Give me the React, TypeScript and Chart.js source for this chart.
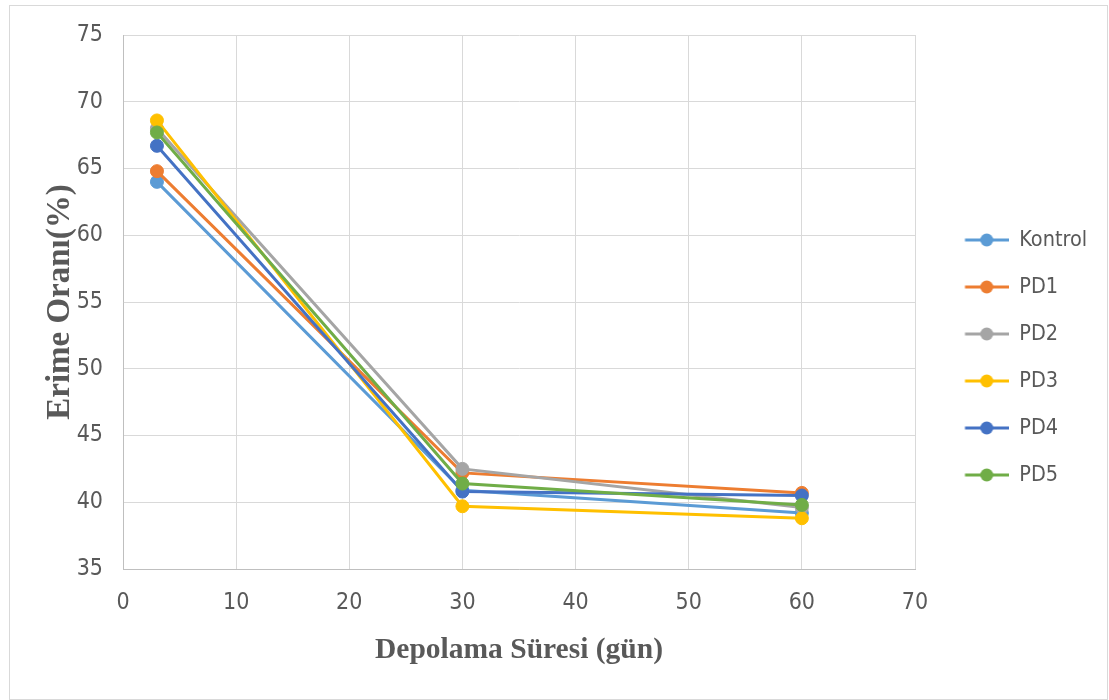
import React, { useEffect, useRef } from "react";
import { Chart, registerables } from "chart.js";

Chart.register(...registerables);

const days = [3, 30, 60];
const seriesNames = ["Kontrol", "PD1", "PD2", "PD3", "PD4", "PD5"];
const kontrol = [64.0, 40.9, 39.2];
const pd1 = [64.8, 42.2, 40.7];
const pd2 = [68.0, 42.5, 39.6];
const pd3 = [68.6, 39.7, 38.8];
const pd4 = [66.7, 40.8, 40.5];
const pd5 = [67.7, 41.4, 39.8];
const seriesValues = [kontrol, pd1, pd2, pd3, pd4, pd5];
const seriesColors = ["#5B9BD5", "#ED7D31", "#A5A5A5", "#FFC000", "#4472C4", "#70AD47"];
const xMin = 0, xMax = 70, xStep = 10;
const yMin = 35, yMax = 75, yStep = 5;
const xTitle = "Depolama Süresi (gün)";
const yTitle = "Erime Oranı(%)";

const W = 1109, H = 700;
const TICK_FONT = "'Liberation Sans Narrow', 'DejaVu Sans Condensed', 'Noto Sans', sans-serif";
const TITLE_FONT = "'Liberation Serif', 'DejaVu Serif', serif";
const LEG_SIZE = 21.5;
const LEG_PAD = 25.5;
const MARK_W = 68;
const MARK_OFF = 24.5;

function makeMarker(color: string) {
  const c = document.createElement("canvas");
  c.width = MARK_W;
  c.height = 16;
  const ctx = c.getContext("2d")!;
  ctx.strokeStyle = color;
  ctx.lineWidth = 3;
  ctx.beginPath();
  ctx.moveTo(MARK_OFF, 8);
  ctx.lineTo(MARK_W, 8);
  ctx.stroke();
  ctx.fillStyle = color;
  ctx.beginPath();
  ctx.arc(MARK_OFF + (MARK_W - MARK_OFF) / 2, 8, 6.5, 0, Math.PI * 2);
  ctx.fill();
  return c;
}

export default function App() {
  const ref = useRef<HTMLCanvasElement | null>(null);
  useEffect(() => {
    document.body.style.margin = "0";
    const canvas = ref.current!;
    const markers = seriesColors.map(makeMarker);
    const mctx = document.createElement("canvas").getContext("2d")!;
    mctx.font = `${LEG_SIZE}px ${TICK_FONT}`;
    const textW = Math.max(...seriesNames.map((n) => mctx.measureText(n).width));
    const legendW = LEG_PAD + MARK_W + LEG_SIZE / 2 + textW + 10;
    const chartRight = 915;
    const padRight = Math.max(0, W - chartRight - legendW);

    const chart = new Chart(canvas, {
      type: "line",
      data: {
        datasets: seriesNames.map((name, i) => ({
          label: name,
          data: days.map((d, j) => ({ x: d, y: seriesValues[i][j] })),
          borderColor: seriesColors[i],
          backgroundColor: seriesColors[i],
          pointBackgroundColor: seriesColors[i],
          pointBorderColor: seriesColors[i],
          pointRadius: 6.5,
          pointBorderWidth: 1,
          borderWidth: 3,
          tension: 0,
          fill: false,
          order: seriesNames.length - 1 - i,
        })),
      },
      options: {
        responsive: false,
        animation: false,
        layout: { padding: { left: 20, top: 35, bottom: 20, right: padRight } },
        plugins: {
          tooltip: { enabled: false },
          legend: {
            position: "right",
            labels: {
              usePointStyle: true,
              pointStyleWidth: MARK_W,
              padding: LEG_PAD,
              color: "#595959",
              font: { family: TICK_FONT, size: LEG_SIZE },
              sort: (a: any, b: any) => a.datasetIndex - b.datasetIndex,
              generateLabels: (ch: any) => {
                const items = (Chart.defaults.plugins.legend.labels as any).generateLabels(ch);
                return items.map((it: any) => ({ ...it, pointStyle: markers[it.datasetIndex] }));
              },
            },
          },
        },
        scales: {
          x: {
            type: "linear",
            min: xMin,
            max: xMax,
            ticks: {
              stepSize: xStep,
              padding: 20,
              color: "#595959",
              font: { family: TICK_FONT, size: 23 },
            },
            grid: { color: "#d9d9d9", lineWidth: 1, drawTicks: false },
            border: { color: "#bfbfbf", width: 1 },
            title: {
              display: true,
              text: xTitle,
              color: "#595959",
              font: { family: TITLE_FONT, size: 29.5, weight: "bold" },
              padding: { top: 0, bottom: 12 },
            },
            afterFit: (s: any) => {
              s.height = H - 20 - 569;
            },
          },
          y: {
            type: "linear",
            min: yMin,
            max: yMax,
            ticks: {
              stepSize: yStep,
              padding: 20,
              color: "#595959",
              font: { family: TICK_FONT, size: 23 },
            },
            grid: { color: "#d9d9d9", lineWidth: 1, drawTicks: false },
            border: { color: "#bfbfbf", width: 1 },
            title: {
              display: true,
              text: yTitle,
              color: "#595959",
              font: { family: TITLE_FONT, size: 33, weight: "bold" },
              padding: { top: 21, bottom: 0 },
            },
            afterFit: (s: any) => {
              s.width = 123 - 20;
            },
          },
        },
      },
    });
    return () => chart.destroy();
  }, []);

  return (
    <div style={{ position: "relative", width: W, height: H, background: "#fff" }}>
      <canvas ref={ref} width={W} height={H} style={{ display: "block", width: W, height: H }} />
      <div
        style={{
          position: "absolute",
          left: 9,
          top: 5,
          width: 1099,
          height: 695,
          border: "1px solid #d9d9d9",
          boxSizing: "border-box",
          pointerEvents: "none",
        }}
      />
    </div>
  );
}
